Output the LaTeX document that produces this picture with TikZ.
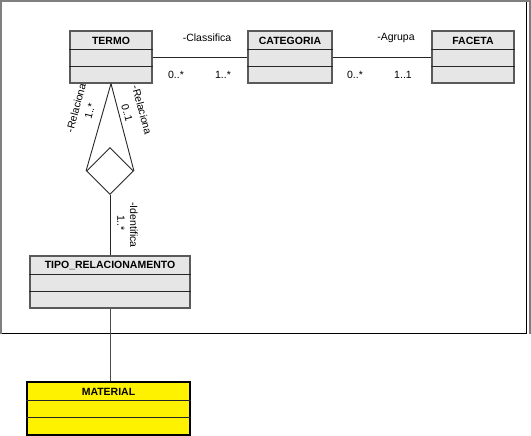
\documentclass[tikz,border=0pt]{standalone}
\usepackage{fontspec}
\setmainfont{Liberation Sans}
\usetikzlibrary{shapes.geometric}
\definecolor{boxfill}{HTML}{E6E6E6}
\definecolor{boxline}{HTML}{5A5A5A}
\definecolor{framegrey}{HTML}{7F7F7F}
\begin{document}
\begin{tikzpicture}[x=1pt,y=-1pt,
  classbox/.style={draw=boxline, line width=1.2pt, fill=boxfill, inner sep=0pt, minimum height=52pt},
  sep/.style={draw=black!85, line width=0.9pt},
  ctitle/.style={font=\fontsize{10.5}{12}\selectfont\bfseries, inner sep=0pt},
  lbl/.style={font=\fontsize{10.5}{12}\selectfont, inner sep=0pt},
  conn/.style={draw=black!85, line width=0.9pt},
  frameg/.style={draw=framegrey, line width=2pt},
  frameb/.style={draw=black, line width=1pt}
]
\useasboundingbox (0,0) rectangle (531,436);
% outer frame
\draw[frameg] (1,334) -- (1,1) -- (531,1);
\draw[frameb] (526,2) -- (526,333) -- (2,333);
\draw[draw=framegrey, line width=1.2pt] (530,1) -- (530,334);

% classes
\node[classbox, minimum width=82pt] (termo) at (111,57) {};
\node[classbox, minimum width=84pt] (categoria) at (290,57) {};
\node[classbox, minimum width=82pt] (faceta) at (473,57) {};
\node[classbox, minimum width=160pt] (tipo) at (110,282) {};
\node[classbox, draw=black, fill=yellow, minimum width=163pt, minimum height=53pt] (material) at (108.5,408.5) {};

\foreach \n in {termo,categoria,faceta,tipo,material}{
  \draw[sep] ([yshift=-19pt]\n.north west) -- ([yshift=-19pt]\n.north east);
  \draw[sep] ([yshift=-36pt]\n.north west) -- ([yshift=-36pt]\n.north east);
}
\node[ctitle] (termo-t) at ([yshift=-10pt]termo.north) {TERMO};
\node[ctitle] (categoria-t) at ([yshift=-10pt]categoria.north) {CATEGORIA};
\node[ctitle] (faceta-t) at ([yshift=-10pt]faceta.north) {FACETA};
\node[ctitle] (tipo-t) at ([yshift=-10pt]tipo.north) {TIPO\_RELACIONAMENTO};
\node[ctitle] (material-t) at ([yshift=-10pt]material.north) {MATERIAL};

% diamond
\node[draw=black!85, line width=0.9pt, diamond, aspect=1, inner sep=0pt, minimum width=47pt, minimum height=47pt, fill=white] (dia) at (110,171) {};

% connectors
\draw[conn] (termo.east) -- (categoria.west);
\draw[conn] (categoria.east) -- (faceta.west);
\draw[conn] (termo.south) -- (dia.west);
\draw[conn] (termo.south) -- (dia.east);
\draw[conn] (dia.south) -- (tipo.north);
\draw[conn, draw=black!70] (tipo.south) -- (tipo.south |- material.north);

% labels
\node[lbl] (l1) at (207,38) {-Classifica};
\node[lbl] (l2) at (176,75) {0..*};
\node[lbl] (l3) at (223,75) {1..*};
\node[lbl] (l4) at (396,38) {-Agrupa};
\node[lbl] (l5) at (355,75) {0..*};
\node[lbl] (l6) at (403,75) {1..1};
\node[lbl, rotate=75] (l7) at (76,108) {-Relaciona};
\node[lbl, rotate=75] (l8) at (90,111) {1..*};
\node[lbl, rotate=-75] (l9) at (142,110) {-Relaciona};
\node[lbl, rotate=-75] (l10) at (127,113) {0..1};
\node[lbl, rotate=-90] (l11) at (134,225) {-Identifica};
\node[lbl, rotate=-90] (l12) at (121,223) {1..*};
\end{tikzpicture}
\end{document}
